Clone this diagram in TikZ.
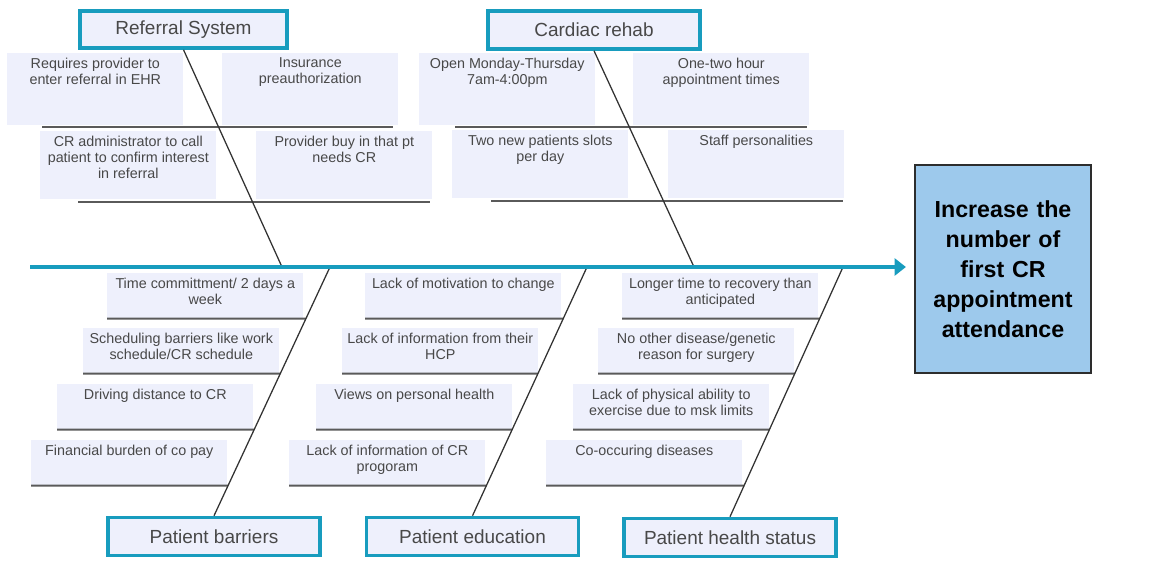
\documentclass[tikz,border=0pt]{standalone}
\usepackage{fontspec}
\setmainfont{Liberation Sans}
\usetikzlibrary{arrows.meta, positioning, calc}

\definecolor{spineblue}{RGB}{24,156,190}
\definecolor{causefill}{RGB}{238,240,252}
\definecolor{goalfill}{RGB}{157,201,236}
\definecolor{goalborder}{RGB}{45,45,45}
\definecolor{ribgray}{RGB}{90,90,90}
\definecolor{bonegray}{RGB}{50,50,50}
\definecolor{textgray}{RGB}{72,72,72}

\begin{document}
\begin{tikzpicture}[
    x=0.025cm, y=-0.025cm,
    category/.style={rectangle, draw=spineblue, line width=2.5pt, fill=causefill, text=textgray, minimum width=5.3cm, minimum height=0.95cm, font=\fontsize{13.5}{16}\selectfont},
    cause/.style 2 args={rectangle, fill=causefill, anchor=north west, inner xsep=0pt, inner ysep=3.2pt, text=textgray, font=\fontsize{10.2}{11.6}\selectfont,
        execute at begin node={\begin{minipage}[t][#2][t]{#1}\centering}, execute at end node={\end{minipage}}},
    toprow/.style={cause={4.4cm}{1.57cm}},
    midrow/.style={cause={4.4cm}{1.47cm}},
    botrow/.style={cause={4.9cm}{0.9cm}},
    goal/.style={rectangle, draw=goalborder, line width=1.5pt, fill=goalfill, minimum width=4.4cm, minimum height=5.2cm, text width=4cm, align=center, font=\fontsize{16.5}{21.3}\selectfont\bfseries},
    spine/.style={line width=2.3pt, draw=spineblue, -{Triangle[length=2.8mm, width=4.2mm]}},
    bone/.style={line width=0.9pt, draw=bonegray},
    rib/.style={line width=1.5pt, draw=ribgray}
]
    \useasboundingbox (0,0) rectangle (1174,579);

    % Effect
    \node (goal) [goal] at (1003,269) {Increase the\\number of\\first CR\\appointment\\attendance};

    % Categories
    \node (referral) [category, minimum width=5.175cm, minimum height=0.925cm] at (183.5,29.5) {Referral System};
    \node (rehab) [category] at (594,30) {Cardiac rehab};
    \node (barriers) [category] at (214,536.5) {Patient barriers};
    \node (education) [category] at (472.5,536.5) {Patient education};
    \node (health) [category] at (730,537.5) {Patient health status};

    % Causes: referral system
    \node (r1) [toprow] at (7,53) {Requires provider to\\enter referral in EHR};
    \node (r2) [toprow] at (222,53) {Insurance\\preauthorization};
    \node (r3) [midrow] at (40,131) {CR administrator to call\\patient to confirm interest\\in referral};
    \node (r4) [midrow] at (256,131) {Provider buy in that pt\\needs CR};

    % Causes: cardiac rehab
    \node (c1) [toprow] at (419,53) {Open Monday-Thursday\\7am-4:00pm};
    \node (c2) [toprow] at (633,53) {One-two hour\\appointment times};
    \node (c3) [midrow] at (452,130) {Two new patients slots\\per day};
    \node (c4) [midrow] at (668,130) {Staff personalities};

    % Causes: patient barriers
    \node (b1) [botrow] at (107,273) {Time committment/ 2 days a\\week};
    \node (b2) [botrow] at (83,328) {Scheduling barriers like work\\schedule/CR schedule};
    \node (b3) [botrow] at (57,384) {Driving distance to CR};
    \node (b4) [botrow] at (31,440) {Financial burden of co pay};

    % Causes: patient education
    \node (e1) [botrow] at (365,273) {Lack of motivation to change};
    \node (e2) [botrow] at (342,328) {Lack of information from their\\HCP};
    \node (e3) [botrow] at (316,384) {Views on personal health};
    \node (e4) [botrow] at (289,440) {Lack of information of CR\\progoram};

    % Causes: patient health status
    \node (h1) [botrow] at (622,273) {Longer time to recovery than\\anticipated};
    \node (h2) [botrow] at (598,328) {No other disease/genetic\\reason for surgery};
    \node (h3) [botrow] at (573,384) {Lack of physical ability to\\exercise due to msk limits};
    \node (h4) [botrow] at (546,440) {Co-occuring diseases};

    % Joints on the spine
    \coordinate (tail) at (30,267);
    \coordinate (refjoint) at (282,267);
    \coordinate (rehabjoint) at (694,267);
    \coordinate (barjoint) at (330,267);
    \coordinate (edujoint) at (587,267);
    \coordinate (healthjoint) at (843,267);

    % Ribs (upper)
    \draw [rib] (42,127) -- (393,127);
    \draw [rib] (78,202) -- (430,202);
    \draw [rib] (455,127) -- (807,127);
    \draw [rib] (491,201) -- (843,201);

    % Ribs (lower)
    \draw [rib] (b1.south west) -- (intersection of barriers.north--barjoint and b1.south west--b1.south east);
    \draw [rib] (b2.south west) -- (intersection of barriers.north--barjoint and b2.south west--b2.south east);
    \draw [rib] (b3.south west) -- (intersection of barriers.north--barjoint and b3.south west--b3.south east);
    \draw [rib] (b4.south west) -- (intersection of barriers.north--barjoint and b4.south west--b4.south east);
    \draw [rib] (e1.south west) -- (intersection of education.north--edujoint and e1.south west--e1.south east);
    \draw [rib] (e2.south west) -- (intersection of education.north--edujoint and e2.south west--e2.south east);
    \draw [rib] (e3.south west) -- (intersection of education.north--edujoint and e3.south west--e3.south east);
    \draw [rib] (e4.south west) -- (intersection of education.north--edujoint and e4.south west--e4.south east);
    \draw [rib] (h1.south west) -- (intersection of health.north--healthjoint and h1.south west--h1.south east);
    \draw [rib] (h2.south west) -- (intersection of health.north--healthjoint and h2.south west--h2.south east);
    \draw [rib] (h3.south west) -- (intersection of health.north--healthjoint and h3.south west--h3.south east);
    \draw [rib] (h4.south west) -- (intersection of health.north--healthjoint and h4.south west--h4.south east);

    % Bones
    \draw [bone] (referral.south) -- (refjoint);
    \draw [bone] (rehab.south) -- (rehabjoint);
    \draw [bone] (barriers.north) -- (barjoint);
    \draw [bone] (education.north) -- (edujoint);
    \draw [bone] (health.north) -- (healthjoint);

    % Spine
    \draw [spine, shorten >=0.2cm] (tail) -- (tail -| goal.west);

\end{tikzpicture}
\end{document}
